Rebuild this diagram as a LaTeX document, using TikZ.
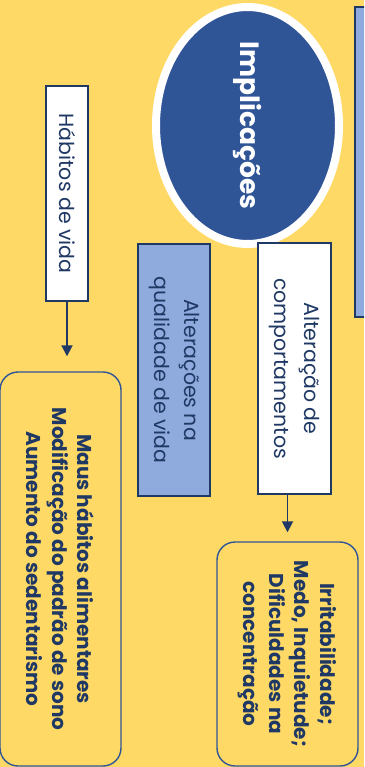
\documentclass[tikz,border=0pt]{standalone}
\usepackage{fontspec}
\setmainfont{Poppins}
\usetikzlibrary{shapes.geometric,arrows.meta}
\definecolor{bg}{HTML}{FFD966}
\definecolor{navy}{HTML}{1F3864}
\definecolor{mblue}{HTML}{2F5597}
\definecolor{lblue}{HTML}{8FAADC}
\begin{document}
\begin{tikzpicture}[x=1pt,y=-1pt,
  rbox/.style={rectangle, rotate=-90, draw=navy, line width=1.4pt, inner sep=0pt, align=center, text=navy},
  rrbox/.style={rectangle, rounded corners=18pt, rotate=-90, draw=mblue, line width=1.4pt, inner sep=0pt, align=center, text=navy},
  regtext/.style={font=\fontsize{20.5}{30}\selectfont},
  boldtext/.style={font=\fontsize{20}{25.5}\selectfont\bfseries},
  arr/.style={draw=navy, line width=1.8pt, -{Triangle[length=11pt,width=11pt]}}]
\fill[bg] (0,0) rectangle (364,767);
\useasboundingbox (0,0) rectangle (364,767);
\clip (0,0) rectangle (364,767);
% right blue panel
\node[rbox, fill=lblue, minimum width=310pt, minimum height=40pt] (panel) at (375,162) {};
% central ellipse
\node[ellipse, rotate=-90, fill=mblue, draw=white, line width=8pt, minimum width=219pt, minimum height=183pt, inner sep=0pt, text=white, font=\fontsize{26.5}{30}\selectfont\bfseries] (impl) at (247.5,125.5) {Implicações};
% boxes
\node[rbox, fill=white, regtext, minimum width=215pt, minimum height=42pt] (hab) at (67,193.5) {Hábitos de vida};
\node[rbox, fill=lblue, regtext, minimum width=252pt, minimum height=72pt] (qual) at (174,370) {Alterações na\\qualidade de vida};
\node[rbox, fill=white, regtext, minimum width=251pt, minimum height=73pt] (comp) at (294.5,368.5) {Alteração de\\comportamentos};
\node[rrbox, boldtext, minimum width=394pt, minimum height=121pt] (maus) at (60.5,569) {Maus hábitos alimentares\\Modificação do padrão de sono\\Aumento do sedentarismo};
\node[rrbox, boldtext, minimum width=224pt, minimum height=141pt] (irr) at (287.5,654) {Irritabilidade;\\Medo, Inquietude;\\Dificuldades na\\concentração};
% arrows
\draw[arr] (hab.east) -- ([yshift=15pt]hab.east |- maus.west);
\draw[arr] (irr.west |- comp.east) -- ([yshift=9pt]irr.west);
\end{tikzpicture}
\end{document}
